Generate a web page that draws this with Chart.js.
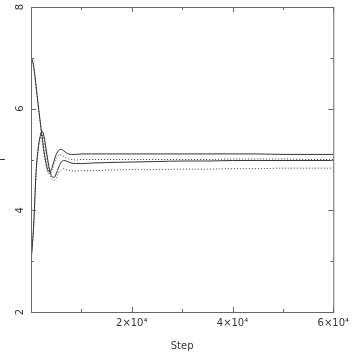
<!DOCTYPE html>
<html>
<head>
<meta charset="utf-8">
<script src="https://cdn.jsdelivr.net/npm/chart.js@4"></script>
<style>
  html, body { margin: 0; padding: 0; background: #fff; }
  canvas { display: block; }
</style>
</head>
<body>
<canvas id="chart" width="354" height="354"></canvas>
<script>
// Shared x positions (training step) for all curves
const steps = [0, 300, 600, 1000, 1400, 1800, 2200, 2600, 3000, 3400, 3800, 4200, 4600,
  5000, 5500, 6000, 6500, 7000, 8000, 9000, 10000, 12000, 15000, 20000, 25000, 30000,
  35000, 40000, 45000, 50000, 55000, 60000];

// Solid curve starting high
const solidHigh = [7.0, 6.95, 6.78, 6.45, 6.1, 5.77, 5.45, 5.15, 4.92, 4.78, 4.76, 4.85, 4.98,
  5.1, 5.18, 5.2, 5.17, 5.13, 5.1, 5.1, 5.11, 5.11, 5.11, 5.11, 5.11, 5.11,
  5.11, 5.11, 5.11, 5.1, 5.1, 5.1];

// Solid curve starting low
const solidLow = [3.0, 3.35, 3.85, 4.75, 5.2, 5.45, 5.56, 5.45, 5.2, 4.95, 4.75, 4.66, 4.65,
  4.72, 4.85, 4.95, 4.98, 4.97, 4.93, 4.92, 4.92, 4.93, 4.94, 4.95, 4.96, 4.97,
  4.97, 4.98, 4.98, 4.98, 4.98, 4.98];

// Dotted curve starting high
const dottedHigh = [7.0, 6.95, 6.78, 6.45, 6.08, 5.74, 5.4, 5.1, 4.88, 4.74, 4.72, 4.8, 4.92,
  5.02, 5.08, 5.09, 5.06, 5.03, 5.0, 4.99, 5.0, 5.0, 5.0, 5.0, 5.0, 5.0,
  5.0, 5.01, 5.01, 5.01, 5.0, 5.0];

// Dotted curve starting low
const dottedLow = [3.0, 3.33, 3.82, 4.7, 5.15, 5.4, 5.5, 5.38, 5.12, 4.88, 4.7, 4.61, 4.59,
  4.64, 4.74, 4.8, 4.82, 4.8, 4.78, 4.77, 4.78, 4.78, 4.79, 4.8, 4.8, 4.81,
  4.81, 4.82, 4.82, 4.83, 4.83, 4.83];

// Axis tick labels
const xTickLabels = { 20000: '2×10⁴', 40000: '4×10⁴', 60000: '6×10⁴' };
const yTickLabels = { 2: '2', 4: '4', 6: '6', 8: '8' };
const xTitle = 'Step';
const yTitle = 'I';

const LINE = '#333';
const FRAME = '#666';
const FONT = '"DejaVu Sans", sans-serif';

function toPoints(ys) {
  return steps.map((x, i) => ({ x, y: ys[i] }));
}

function lineSet(ys, dotted) {
  return {
    data: toPoints(ys),
    borderColor: LINE,
    borderWidth: 1,
    borderDash: dotted ? [1, 2] : [],
    pointRadius: 0,
    fill: false,
    cubicInterpolationMode: 'monotone'
  };
}

// Frame, inward ticks on all four sides, rotated y labels and y title
const framePlugin = {
  id: 'frame',
  afterDraw(chart) {
    const { ctx, chartArea: a, scales: { x, y } } = chart;
    ctx.save();
    ctx.strokeStyle = FRAME;
    ctx.lineWidth = 1;
    ctx.strokeRect(a.left + 0.5, a.top + 0.5, a.right - a.left, a.bottom - a.top);

    ctx.beginPath();
    for (const t of x.ticks) {
      const px = Math.round(x.getPixelForValue(t.value)) + 0.5;
      const len = t.value % 20000 === 0 ? 5 : 3;
      ctx.moveTo(px, a.bottom);
      ctx.lineTo(px, a.bottom - len);
      ctx.moveTo(px, a.top);
      ctx.lineTo(px, a.top + len);
    }
    for (const t of y.ticks) {
      const py = Math.round(y.getPixelForValue(t.value)) + 0.5;
      const len = t.value % 2 === 0 ? 5 : 3;
      ctx.moveTo(a.left, py);
      ctx.lineTo(a.left + len, py);
      ctx.moveTo(a.right, py);
      ctx.lineTo(a.right - len, py);
    }
    ctx.stroke();

    ctx.fillStyle = LINE;
    ctx.font = '10px ' + FONT;
    ctx.textAlign = 'center';
    ctx.textBaseline = 'middle';
    for (const t of y.ticks) {
      const label = yTickLabels[t.value];
      if (!label) continue;
      ctx.save();
      ctx.translate(20, y.getPixelForValue(t.value));
      ctx.rotate(-Math.PI / 2);
      ctx.fillText(label, 0, 0);
      ctx.restore();
    }
    ctx.save();
    ctx.translate(2, (a.top + a.bottom) / 2);
    ctx.rotate(-Math.PI / 2);
    ctx.fillText(yTitle, 0, 0);
    ctx.restore();
    ctx.restore();
  }
};

new Chart(document.getElementById('chart'), {
  type: 'line',
  data: {
    datasets: [
      lineSet(solidHigh, false),
      lineSet(solidLow, false),
      lineSet(dottedHigh, true),
      lineSet(dottedLow, true)
    ]
  },
  options: {
    responsive: false,
    animation: false,
    layout: { padding: { left: 0, top: 7, right: 18, bottom: 0 } },
    plugins: {
      legend: { display: false },
      tooltip: { enabled: false }
    },
    scales: {
      x: {
        type: 'linear',
        min: 0,
        max: 60000,
        grid: { display: false, drawTicks: false },
        border: { display: false },
        ticks: {
          stepSize: 10000,
          padding: 5,
          maxRotation: 0,
          autoSkip: false,
          color: LINE,
          font: { family: FONT, size: 10 },
          callback: v => xTickLabels[v] || ''
        },
        title: {
          display: true,
          text: xTitle,
          color: LINE,
          font: { family: FONT, size: 10 },
          padding: { top: 0, bottom: 2 }
        },
        afterFit: s => { s.height = 42; }
      },
      y: {
        type: 'linear',
        min: 2,
        max: 8,
        grid: { display: false, drawTicks: false },
        border: { display: false },
        ticks: { stepSize: 1, display: false },
        afterFit: s => { s.width = 31; }
      }
    }
  },
  plugins: [framePlugin]
});
</script>
</body>
</html>
